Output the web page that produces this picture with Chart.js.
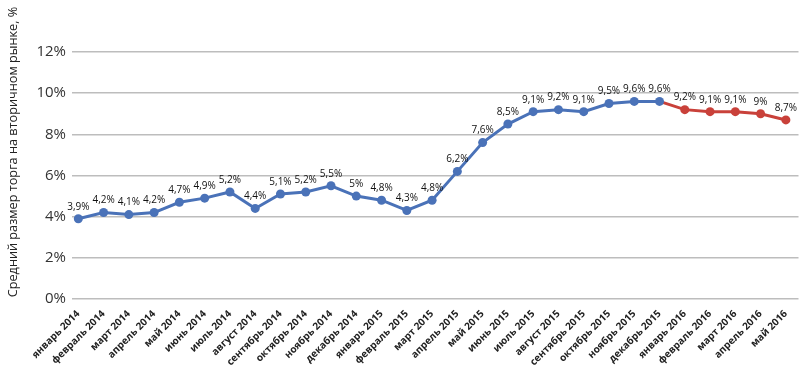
<!DOCTYPE html>
<html>
<head>
<meta charset="utf-8">
<script src="https://cdn.jsdelivr.net/npm/chart.js@4"></script>
<style>
  html, body { margin: 0; padding: 0; background: #fff; }
</style>
</head>
<body>
<canvas id="lineChart" width="803" height="365"></canvas>
<script>
const months = [
  'январь 2014', 'февраль 2014', 'март 2014', 'апрель 2014', 'май 2014', 'июнь 2014',
  'июль 2014', 'август 2014', 'сентябрь 2014', 'октябрь 2014', 'ноябрь 2014', 'декабрь 2014',
  'январь 2015', 'февраль 2015', 'март 2015', 'апрель 2015', 'май 2015', 'июнь 2015',
  'июль 2015', 'август 2015', 'сентябрь 2015', 'октябрь 2015', 'ноябрь 2015', 'декабрь 2015',
  'январь 2016', 'февраль 2016', 'март 2016', 'апрель 2016', 'май 2016'
];
const values = [
  3.9, 4.2, 4.1, 4.2, 4.7, 4.9, 5.2, 4.4, 5.1, 5.2, 5.5, 5.0,
  4.8, 4.3, 4.8, 6.2, 7.6, 8.5, 9.1, 9.2, 9.1, 9.5, 9.6, 9.6,
  9.2, 9.1, 9.1, 9.0, 8.7
];
const forecastStart = 24; // from январь 2016 the line is red
const yTicks = [0, 2, 4, 6, 8, 10, 12];
const yTitle = 'Средний размер торга на вторичном рынке, %';

const blue = '#4a72b8';
const red = '#c9413a';

// value labels above the points, comma as decimal mark
const pointLabels = {
  id: 'pointLabels',
  afterDatasetsDraw(chart) {
    const ctx = chart.ctx;
    const meta = chart.getDatasetMeta(0);
    ctx.save();
    ctx.font = '10px "Open Sans"';
    ctx.fillStyle = '#111';
    ctx.textAlign = 'center';
    ctx.textBaseline = 'bottom';
    meta.data.forEach((pt, i) => {
      const txt = String(values[i]).replace('.', ',') + '%';
      ctx.fillText(txt, pt.x, pt.y - 7);
    });
    ctx.restore();
  }
};

// axis title sits a bit higher than the plot centre in the original
const axisTitle = {
  id: 'axisTitle',
  afterDraw(chart) {
    const ctx = chart.ctx;
    ctx.save();
    ctx.translate(13, 152);
    ctx.rotate(-Math.PI / 2);
    ctx.font = '12.7px "Open Sans"';
    ctx.fillStyle = '#222';
    ctx.textAlign = 'center';
    ctx.textBaseline = 'middle';
    ctx.fillText(yTitle, 0, 0);
    ctx.restore();
  }
};

const ctx = document.getElementById('lineChart').getContext('2d');

const chart = new Chart(ctx, {
  type: 'line',
  data: {
    datasets: [
      {
        data: values.map((v, i) => ({ x: i, y: v })),
        borderColor: blue,
        borderWidth: 3,
        pointRadius: 4.5,
        pointBorderWidth: 0,
        pointBackgroundColor: values.map((v, i) => i < forecastStart ? blue : red),
        segment: {
          borderColor: c => c.p1DataIndex >= forecastStart ? red : blue
        },
        tension: 0
      }
    ]
  },
  options: {
    responsive: false,
    animation: false,
    layout: { padding: { top: 52, right: 3, left: 0, bottom: 0 } },
    plugins: {
      legend: { display: false },
      tooltip: { enabled: false }
    },
    scales: {
      x: {
        type: 'linear',
        min: -0.25,
        max: 28.5,
        afterBuildTicks: s => { s.ticks = months.map((m, i) => ({ value: i })); },
        afterFit: s => { s.height = 66; },
        grid: { display: false },
        border: { display: false },
        ticks: {
          autoSkip: false,
          maxRotation: 45,
          minRotation: 45,
          padding: 1,
          color: '#222',
          font: { family: '"Liberation Sans Narrow", "Open Sans"', size: 10, weight: 'bold' },
          callback: v => months[v] ?? ''
        }
      },
      y: {
        min: 0,
        max: 12,
        afterBuildTicks: s => { s.ticks = yTicks.map(v => ({ value: v })); },
        afterFit: s => { s.width = 72; },
        grid: { color: '#bdbdbd', lineWidth: 1.5, drawTicks: false },
        border: { display: false },
        ticks: {
          padding: 6,
          color: '#333',
          font: { family: 'Open Sans', size: 15 },
          callback: v => v + '%'
        }
      }
    }
  },
  plugins: [pointLabels, axisTitle]
});
</script>
</body>
</html>
